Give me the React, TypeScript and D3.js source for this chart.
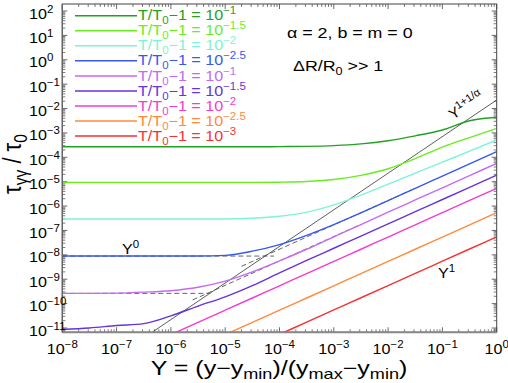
import React from 'react';
import * as d3 from 'd3';

const W = 508;
const H = 383;

// log10(Y) grid at which the curves are read
const logYGrid = [-8, -7.5, -7, -6.5, -6, -5.5, -5, -4.5, -4, -3.5, -3, -2.5, -2, -1.5, -1, -0.5, 0];

// log10(tau_gg / tau_0) for each curve (null = below the axis)
const darkGreenVals = [-3.57, -3.57, -3.57, -3.57, -3.57, -3.57, -3.57, -3.57, -3.56, -3.55, -3.52, -3.45, -3.32, -3.12, -2.88, -2.5, -2.36];
const lightGreenVals = [-5.03, -5.03, -5.03, -5.03, -5.03, -5.03, -5.03, -5.03, -5.02, -4.99, -4.91, -4.74, -4.47, -4.05, -3.58, -3.19, -2.81];
const aquaVals = [-6.53, -6.53, -6.53, -6.53, -6.53, -6.53, -6.53, -6.5, -6.42, -6.25, -5.95, -5.55, -5.1, -4.65, -4.2, -3.75, -3.29];
const blueVals = [-8.05, -8.05, -8.05, -8.05, -8.05, -8.05, -8.02, -7.85, -7.58, -7.2, -6.76, -6.28, -5.78, -5.27, -4.77, -4.27, -3.77];
const violetVals = [-9.58, -9.58, -9.57, -9.53, -9.47, -9.33, -9.08, -8.7, -8.25, -7.77, -7.26, -6.76, -6.25, -5.75, -5.25, -4.75, -4.25];
const purpleVals = [-11.06, -11.0, -10.9, -10.82, -10.5, -10.1, -9.72, -9.26, -8.74, -8.23, -7.73, -7.23, -6.73, -6.23, -5.73, -5.23, -4.73];
const magentaVals = [null, null, null, null, -11.27, -10.77, -10.27, -9.77, -9.27, -8.77, -8.27, -7.77, -7.27, -6.77, -6.27, -5.77, -5.27];
const orangeVals = [null, null, null, null, null, null, -11.27, -10.77, -10.27, -9.77, -9.27, -8.77, -8.27, -7.77, -7.27, -6.77, -6.27];
const redVals = [null, null, null, null, null, null, null, null, -11.26, -10.76, -10.26, -9.76, -9.26, -8.76, -8.26, -7.76, -7.26];

const seriesValues = [darkGreenVals, lightGreenVals, aquaVals, blueVals, violetVals, purpleVals, magentaVals, orangeVals, redVals];
const seriesColors = ['#23a023', '#66ee1e', '#7cf5d6', '#3658f0', '#c46af5', '#6633dd', '#f23cd0', '#ff8a3d', '#f53232'];
const legendExps = ['\u22121', '\u22121.5', '\u22122', '\u22122.5', '\u22121', '\u22121.5', '\u22122', '\u22122.5', '\u22123'];

// dashed asymptotes [logY, logTau]
const asymptotes: [number, number][][] = [
  [[-8, -8.05], [-4.1, -8.05]],
  [[-4.7, -8.47], [-1.5, -5.27]],
  [[-8, -9.58], [-5.3, -9.58]],
  [[-5.6, -9.85], [-2.5, -6.75]],
];
// Y^(1+1/alpha) guide line
const guideLine: [number, number][] = [[-6.45, -11.33], [0, -1.65]];

const xTickExps = [-8, -7, -6, -5, -4, -3, -2, -1, 0];
const yTickExps = [2, 1, 0, -1, -2, -3, -4, -5, -6, -7, -8, -9, -10, -11];

const L = 62.3, R = 496.7, T = 4, B = 332.3;
const SX = 1.15;
const FONT = "'Liberation Sans', Arial, Helvetica, sans-serif";
const minus = (n: number) => (n < 0 ? '\u2212' + Math.abs(n) : String(n));

export default function App() {
  const x = d3.scaleLog().domain([1e-8, 1]).range([L, R]);
  const y = d3.scaleLog().domain([1e-11, 1e2]).range([328, 11]);

  const line = d3
    .line<[number, number | null]>()
    .defined((d) => d[1] !== null)
    .x((d) => x(Math.pow(10, d[0])))
    .y((d) => y(Math.pow(10, d[1] as number)))
    .curve(d3.curveMonotoneX);

  const straight = d3
    .line<[number, number]>()
    .x((d) => x(Math.pow(10, d[0])))
    .y((d) => y(Math.pow(10, d[1])));

  const yMinor: number[] = [];
  for (let d = -12; d <= 2; d++) {
    for (let m = 2; m <= 9; m++) {
      const py = y(m * Math.pow(10, d));
      if (py > T + 0.5 && py < B - 0.5) yMinor.push(py);
    }
  }
  const xMinor: number[] = [];
  for (let d = -8; d < 0; d++) {
    for (let m = 2; m <= 9; m++) xMinor.push(x(m * Math.pow(10, d)));
  }
  const tickColor = '#444';

  return (
    <svg width={W} height={H} style={{ position: 'absolute', left: 0, top: 0, background: '#fff' }} fontFamily={FONT}>
      <defs>
        <clipPath id="plotclip">
          <rect x={L} y={T} width={R - L} height={B - T} />
        </clipPath>
      </defs>
      <rect x={0} y={0} width={W} height={H} fill="#fff" />

      {yTickExps.map((e) => {
        const py = y(Math.pow(10, e));
        return (
          <g key={'yt' + e} stroke={tickColor} strokeWidth={0.8}>
            <line x1={L} x2={L + 5} y1={py} y2={py} />
            <line x1={R} x2={R - 5} y1={py} y2={py} />
          </g>
        );
      })}
      {yMinor.map((py, i) => (
        <g key={'ym' + i} stroke={tickColor} strokeWidth={0.7}>
          <line x1={L} x2={L + 3} y1={py} y2={py} />
          <line x1={R} x2={R - 3} y1={py} y2={py} />
        </g>
      ))}
      {xTickExps.map((e) => {
        const px = x(Math.pow(10, e));
        return (
          <g key={'xt' + e} stroke={tickColor} strokeWidth={0.8}>
            <line x1={px} x2={px} y1={B} y2={B - 5} />
            <line x1={px} x2={px} y1={T} y2={T + 5} />
          </g>
        );
      })}
      {xMinor.map((px, i) => (
        <g key={'xm' + i} stroke={tickColor} strokeWidth={0.7}>
          <line x1={px} x2={px} y1={B} y2={B - 3} />
          <line x1={px} x2={px} y1={T} y2={T + 3} />
        </g>
      ))}

      <g clipPath="url(#plotclip)" fill="none">
        <path d={straight(guideLine) || ''} stroke="#333" strokeWidth={0.8} />
        {asymptotes.map((a, i) => (
          <path key={'as' + i} d={straight(a) || ''} stroke="#555" strokeWidth={0.9} strokeDasharray="5,3" />
        ))}
        {seriesValues.map((vals, i) => (
          <path
            key={'s' + i}
            d={line(logYGrid.map((lx, j) => [lx, vals[j]] as [number, number | null])) || ''}
            stroke={seriesColors[i]}
            strokeWidth={1.4}
          />
        ))}
      </g>

      <rect x={L} y={T} width={R - L} height={B - T} fill="none" stroke="#444" strokeWidth={1} />
      <line x1={L} x2={R} y1={B} y2={B} stroke="#888" strokeWidth={2} />
      <line x1={L} x2={L} y1={T} y2={B} stroke="#666" strokeWidth={1.3} />

      {xTickExps.map((e) => (
        <text key={'xl' + e} transform={`translate(${x(Math.pow(10, e))},353.5) scale(${SX},1)`} textAnchor="middle" fontSize={14} fill="#000">
          10
          <tspan dy={-6} fontSize={10}>
            {minus(e)}
          </tspan>
        </text>
      ))}
      {yTickExps.map((e) => (
        <text key={'yl' + e} transform={`translate(29,${y(Math.pow(10, e)) + 7.5}) scale(${SX},1)`} textAnchor="start" fontSize={14} fill="#000">
          10
          <tspan dy={-6} fontSize={10}>
            {minus(e)}
          </tspan>
        </text>
      ))}

      {seriesColors.map((c, i) => {
        const ry = 15.7 + 15.05 * i;
        return (
          <g key={'lg' + i}>
            <line x1={75} x2={137} y1={ry} y2={ry} stroke={c} strokeWidth={1.5} />
            <text transform={`translate(138,${ry + 4.6}) scale(${SX},1)`} fontSize={14} fill={c}>
              T/T
              <tspan dy={4} fontSize={10}>0</tspan>
              <tspan dy={-4}>{'\u22121 = 10'}</tspan>
              <tspan dy={-6} fontSize={10}>{legendExps[i]}</tspan>
            </text>
          </g>
        );
      })}

      <text transform={`translate(287,38) scale(${SX},1)`} fontSize={15.5} fill="#000">
        {'\u03b1 = 2, b = m = 0'}
      </text>
      <text transform={`translate(293,70.5) scale(${SX},1)`} fontSize={15.5} fill="#000">
        {'\u0394R/R'}
        <tspan dy={4} fontSize={11}>0</tspan>
        <tspan dy={-4}>{' >> 1'}</tspan>
      </text>
      <text transform={`translate(453,120) rotate(-33.7)`} fontSize={15} fill="#000">
        Y<tspan dy={-6} fontSize={11}>{'1+1/\u03b1'}</tspan>
      </text>
      <text transform={`translate(122,254) scale(${SX},1)`} fontSize={14} fill="#000">
        Y<tspan dy={-6} fontSize={10}>0</tspan>
      </text>
      <text transform={`translate(438,278) scale(${SX},1)`} fontSize={14} fill="#000">
        Y<tspan dy={-6} fontSize={10}>1</tspan>
      </text>

      <text transform={`translate(279,374.5) scale(1.25,1)`} textAnchor="middle" fontSize={20} fill="#000">
        {'Y = (y\u2212y'}
        <tspan dy={4.5} fontSize={14.5}>min</tspan>
        <tspan dy={-4.5}>{')/(y'}</tspan>
        <tspan dy={4.5} fontSize={14.5}>max</tspan>
        <tspan dy={-4.5}>{'\u2212y'}</tspan>
        <tspan dy={4.5} fontSize={14.5}>min</tspan>
        <tspan dy={-4.5}>)</tspan>
      </text>
      <text transform={`translate(21,164) scale(${SX},1) rotate(-90)`} textAnchor="middle" fontSize={22} fill="#000">
        {'\u03c4'}
        <tspan dy={5} fontSize={15.5}>{'\u03b3\u03b3'}</tspan>
        <tspan dy={-5}>{' / \u03c4'}</tspan>
        <tspan dy={5} fontSize={15.5}>0</tspan>
      </text>
    </svg>
  );
}
